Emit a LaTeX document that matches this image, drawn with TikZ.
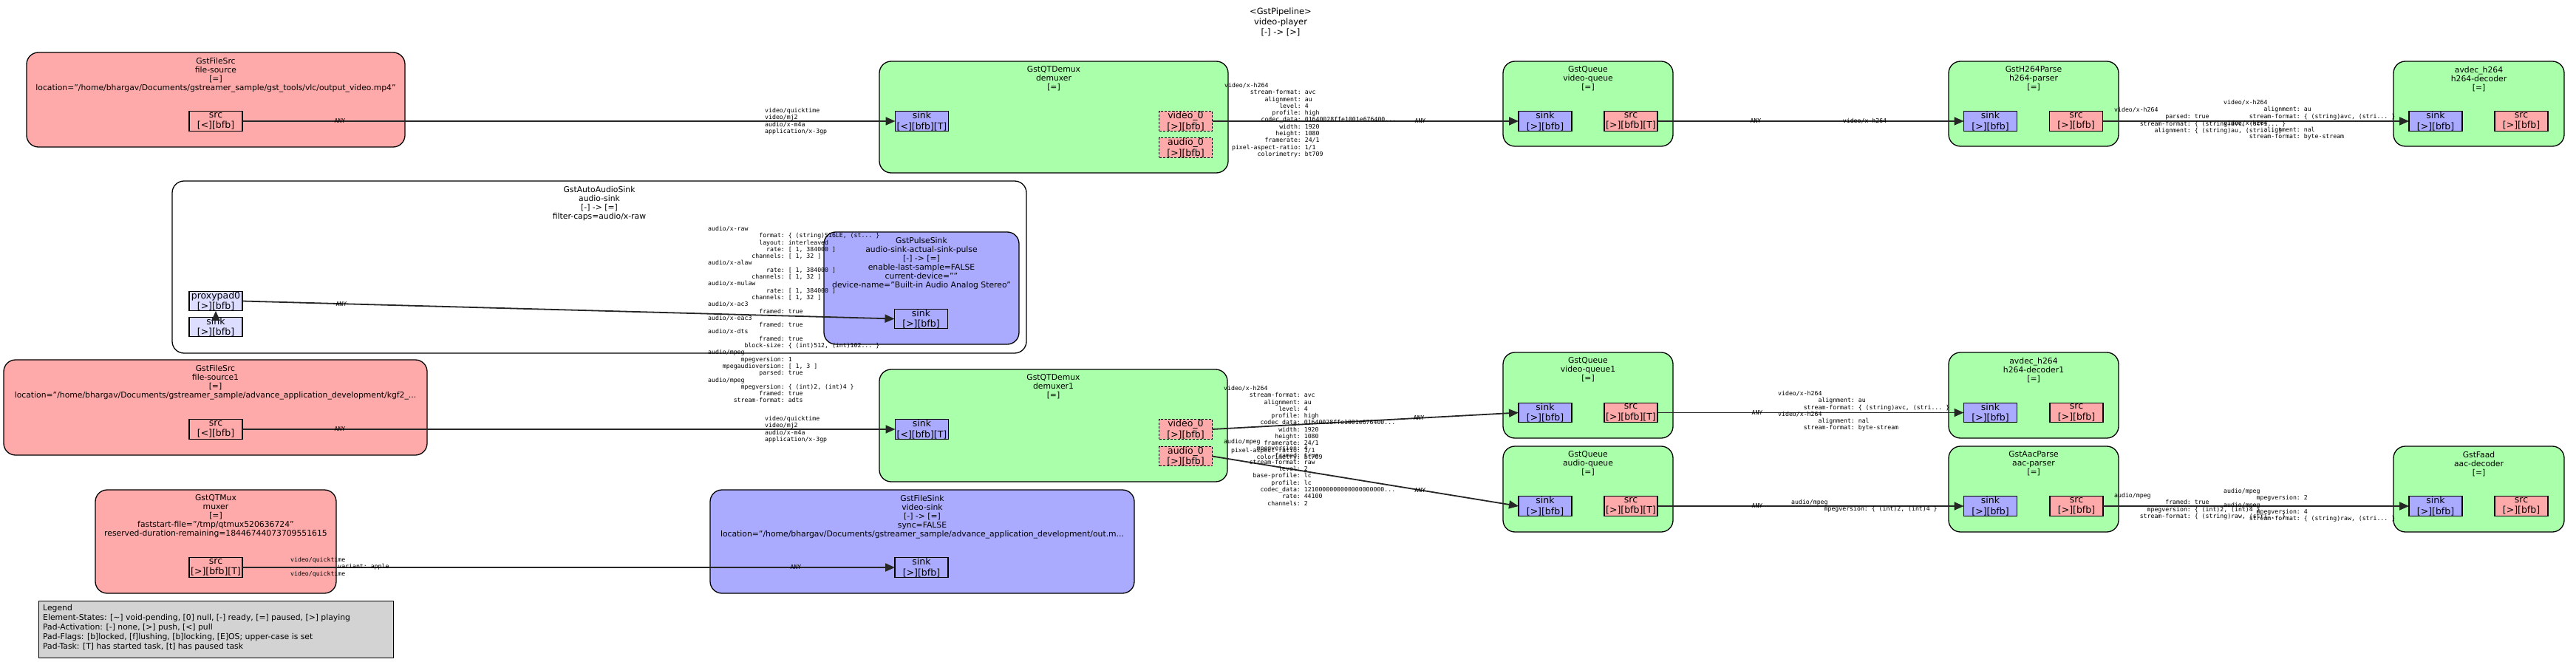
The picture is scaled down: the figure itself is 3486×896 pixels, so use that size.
\documentclass[tikz,border=0pt]{standalone}
\usepackage{fontspec}
\setmainfont{DejaVu Sans}
\setmonofont{DejaVu Sans Mono}
\usepackage{xcolor}
\usepackage{tikz}
\usetikzlibrary{calc,arrows.meta}

\definecolor{elemgreen}{HTML}{AAFFAA}
\definecolor{srcpink}{HTML}{FFAAAA}
\definecolor{sinkblue}{HTML}{AAAAFF}
\definecolor{ghostblue}{HTML}{DDDDFF}
\definecolor{legendgray}{HTML}{D3D3D3}

\newcommand{\kv}[2]{\makebox[12.04em][r]{#1}: #2}

\begin{document}
\begin{tikzpicture}[x=1pt, y=-1pt,
        elem/.style={draw, line width=1.3pt, rounded corners=16pt, anchor=north west, inner sep=0pt, outer sep=0pt},
        elabel/.style={anchor=north, inner sep=0pt, align=center, font=\fontsize{10.8}{12}\selectfont},
        pad/.style={draw, line width=1.2pt, minimum width=72pt, minimum height=26.5pt, inner sep=0pt, outer sep=0pt, align=center, font=\fontsize{12.5}{14.5}\selectfont},
        srcpad/.style={pad, fill=srcpink},
        sinkpad/.style={pad, fill=sinkblue},
        ghostpad/.style={pad, fill=ghostblue},
        somepad/.style={srcpad, dash pattern=on 3pt off 2pt},
        caps/.style={anchor=north west, inner sep=0pt, align=left, font=\ttfamily\fontsize{8.2}{9.3}\selectfont},
        anylbl/.style={inner sep=0pt, font=\ttfamily\fontsize{8.2}{9.3}\selectfont},
        link/.style={line width=1.8pt, draw=black!85, -{Triangle[length=13pt,width=11pt]}}]

        \useasboundingbox (0,0) rectangle (3486,896);

        \node[elabel, font=\fontsize{11.5}{13.8}\selectfont] (pipeline) at (1733,11) {<GstPipeline>\\video-player\\{}[-] -> [>]};

        \node[elem, fill=srcpink, minimum width=512pt, minimum height=128pt] (fsrc) at (36,71) {};
        \node[elabel] (fsrc-l) at ($(fsrc.north)+(0,6.7)$) {GstFileSrc\\file-source\\{}[=]\\location="/home/bhargav/Documents/gstreamer\_sample/gst\_tools/vlc/output\_video.mp4"};
        \node[srcpad] (fsrc-src) at (292,164) {src\\{}[<][bfb]};

        \node[elem, fill=elemgreen, minimum width=472pt, minimum height=151pt] (dmx) at (1190,83) {};
        \node[elabel] (dmx-l) at ($(dmx.north)+(0,6.7)$) {GstQTDemux\\demuxer\\{}[=]};
        \node[sinkpad] (dmx-sink) at (1247.5,164) {sink\\{}[<][bfb][T]};
        \node[somepad] (dmx-v) at (1604.5,164) {video\_0\\{}[>][bfb]};
        \node[somepad] (dmx-a) at (1604.5,200) {audio\_0\\{}[>][bfb]};

        \node[elem, fill=elemgreen, minimum width=230pt, minimum height=115pt] (vq) at (2034,83) {};
        \node[elabel] (vq-l) at ($(vq.north)+(0,6.7)$) {GstQueue\\video-queue\\{}[=]};
        \node[sinkpad] (vq-sink) at (2091,164) {sink\\{}[>][bfb]};
        \node[srcpad] (vq-src) at (2207,164) {src\\{}[>][bfb][T]};

        \node[elem, fill=elemgreen, minimum width=230pt, minimum height=115pt] (hp) at (2637,83) {};
        \node[elabel] (hp-l) at ($(hp.north)+(0,6.7)$) {GstH264Parse\\h264-parser\\{}[=]};
        \node[sinkpad] (hp-sink) at (2693.5,164) {sink\\{}[>][bfb]};
        \node[srcpad] (hp-src) at (2809.5,164) {src\\{}[>][bfb]};

        \node[elem, fill=elemgreen, minimum width=231pt, minimum height=115pt] (hd) at (3239,83) {};
        \node[elabel] (hd-l) at ($(hd.north)+(0,6.7)$) {avdec\_h264\\h264-decoder\\{}[=]};
        \node[sinkpad] (hd-sink) at (3296,164) {sink\\{}[>][bfb]};
        \node[srcpad] (hd-src) at (3412,164) {src\\{}[>][bfb]};

        \node[elem, fill=white, minimum width=1156pt, minimum height=233pt] (asink) at (233,245) {};
        \node[elabel] (asink-l) at ($(asink.north)+(0,6.7)$) {GstAutoAudioSink\\audio-sink\\{}[-] -> [=]\\filter-caps=audio/x-raw};
        \node[ghostpad] (proxypad) at (292,407.5) {proxypad0\\{}[>][bfb]};
        \node[ghostpad] (binsink) at (292,442.5) {sink\\{}[>][bfb]};

        \node[elem, fill=sinkblue, minimum width=264pt, minimum height=152pt] (pulse) at (1115,314) {};
        \node[elabel] (pulse-l) at ($(pulse.north)+(0,6.7)$) {GstPulseSink\\audio-sink-actual-sink-pulse\\{}[-] -> [=]\\enable-last-sample=FALSE\\current-device=""\\device-name="Built-in Audio Analog Stereo"};
        \node[sinkpad] (pulse-sink) at (1246.5,431.5) {sink\\{}[>][bfb]};

        \node[elem, fill=srcpink, minimum width=573pt, minimum height=129pt] (fsrc1) at (5,487) {};
        \node[elabel] (fsrc1-l) at ($(fsrc1.north)+(0,6.7)$) {GstFileSrc\\file-source1\\{}[=]\\location="/home/bhargav/Documents/gstreamer\_sample/advance\_application\_development/kgf2\_...};
        \node[srcpad] (fsrc1-src) at (292,581) {src\\{}[<][bfb]};

        \node[elem, fill=elemgreen, minimum width=471pt, minimum height=152pt] (dmx1) at (1190,500) {};
        \node[elabel] (dmx1-l) at ($(dmx1.north)+(0,6.7)$) {GstQTDemux\\demuxer1\\{}[=]};
        \node[sinkpad] (dmx1-sink) at (1247.5,581) {sink\\{}[<][bfb][T]};
        \node[somepad] (dmx1-v) at (1604.5,581) {video\_0\\{}[>][bfb]};
        \node[somepad] (dmx1-a) at (1604.5,617.5) {audio\_0\\{}[>][bfb]};

        \node[elem, fill=elemgreen, minimum width=230pt, minimum height=116pt] (vq1) at (2034,477) {};
        \node[elabel] (vq1-l) at ($(vq1.north)+(0,6.7)$) {GstQueue\\video-queue1\\{}[=]};
        \node[sinkpad] (vq1-sink) at (2091,558.5) {sink\\{}[>][bfb]};
        \node[srcpad] (vq1-src) at (2207,558.5) {src\\{}[>][bfb][T]};

        \node[elem, fill=elemgreen, minimum width=230pt, minimum height=116pt] (hd1) at (2637,477) {};
        \node[elabel] (hd1-l) at ($(hd1.north)+(0,6.7)$) {avdec\_h264\\h264-decoder1\\{}[=]};
        \node[sinkpad] (hd1-sink) at (2693.5,558.5) {sink\\{}[>][bfb]};
        \node[srcpad] (hd1-src) at (2810,558.5) {src\\{}[>][bfb]};

        \node[elem, fill=elemgreen, minimum width=230pt, minimum height=116pt] (aq) at (2034,604) {};
        \node[elabel] (aq-l) at ($(aq.north)+(0,6.7)$) {GstQueue\\audio-queue\\{}[=]};
        \node[sinkpad] (aq-sink) at (2091,685) {sink\\{}[>][bfb]};
        \node[srcpad] (aq-src) at (2207,685) {src\\{}[>][bfb][T]};

        \node[elem, fill=elemgreen, minimum width=230pt, minimum height=116pt] (ap) at (2637,604) {};
        \node[elabel] (ap-l) at ($(ap.north)+(0,6.7)$) {GstAacParse\\aac-parser\\{}[=]};
        \node[sinkpad] (ap-sink) at (2693.5,685) {sink\\{}[>][bfb]};
        \node[srcpad] (ap-src) at (2810,685) {src\\{}[>][bfb]};

        \node[elem, fill=elemgreen, minimum width=231pt, minimum height=116pt] (ad) at (3239,604) {};
        \node[elabel] (ad-l) at ($(ad.north)+(0,6.7)$) {GstFaad\\aac-decoder\\{}[=]};
        \node[sinkpad] (ad-sink) at (3296,685) {sink\\{}[>][bfb]};
        \node[srcpad] (ad-src) at (3412,685) {src\\{}[>][bfb]};

        \node[elem, fill=srcpink, minimum width=326pt, minimum height=140pt] (mux) at (129,663) {};
        \node[elabel] (mux-l) at ($(mux.north)+(0,6.7)$) {GstQTMux\\muxer\\{}[=]\\faststart-file="/tmp/qtmux520636724"\\reserved-duration-remaining=18446744073709551615};
        \node[srcpad] (mux-src) at (292,768) {src\\{}[>][bfb][T]};

        \node[elem, fill=sinkblue, minimum width=574pt, minimum height=140pt] (fsink) at (961,663) {};
        \node[elabel] (fsink-l) at ($(fsink.north)+(0,6.7)$) {GstFileSink\\video-sink\\{}[-] -> [=]\\sync=FALSE\\location="/home/bhargav/Documents/gstreamer\_sample/advance\_application\_development/out.m...};
        \node[sinkpad] (fsink-sink) at (1247,768) {sink\\{}[>][bfb]};

        \node[draw, fill=legendgray, line width=1pt, anchor=north west, inner sep=0pt, minimum width=480pt, minimum height=77pt] (legend) at (52,813) {};
        \node[anchor=north west, inner sep=0pt, align=left, font=\fontsize{10.8}{13}\selectfont] (legend-t) at ($(legend.north west)+(6,5)$) {Legend\\Element-States: [\textasciitilde] void-pending, [0] null, [-] ready, [=] paused, [>] playing\\Pad-Activation: [-] none, [>] push, [<] pull\\Pad-Flags: [b]locked, [f]lushing, [b]locking, [E]OS; upper-case is set\\Pad-Task: [T] has started task, [t] has paused task};

        \draw[link] (fsrc-src.east) -- (dmx-sink.west);
        \draw[link] (dmx-v.east) -- (vq-sink.west);
        \draw[link] (vq-src.east) -- (hp-sink.west);
        \draw[link] (hp-src.east) -- (hd-sink.west);
        \draw[link] (binsink.north) -- (proxypad.south);
        \draw[link] (proxypad.east) -- (pulse-sink.west);
        \draw[link] (fsrc1-src.east) -- (dmx1-sink.west);
        \draw[link] (dmx1-v.east) -- (vq1-sink.west);
        \draw[link] (dmx1-a.east) -- (aq-sink.west);
        \draw[link] (vq1-src.east) -- (hd1-sink.west);
        \draw[link] (aq-src.east) -- (ap-sink.west);
        \draw[link] (ap-src.east) -- (ad-sink.west);
        \draw[link] (mux-src.east) -- (fsink-sink.west);

        \node[anylbl] (any-fsrc) at ($(fsrc-src.east)!132pt!(dmx-sink.west)$) {ANY};
        \node[anylbl] (any-vq) at ($(vq-sink.west)!133pt!(dmx-v.east)$) {ANY};
        \node[anylbl] (any-vqsrc) at ($(vq-src.east)!133pt!(hp-sink.west)$) {ANY};
        \node[anylbl] (h264-hp) at ($(hp-sink.west)!134pt!(vq-src.east)$) {video/x-h264};
        \node[anylbl] (any-proxy) at ($(proxypad.east)!134pt!(pulse-sink.west)$) {ANY};
        \node[anylbl] (any-fsrc1) at ($(fsrc1-src.east)!132pt!(dmx1-sink.west)$) {ANY};
        \node[anylbl] (any-vq1) at ($(vq1-sink.west)!135pt!(dmx1-v.east)$) {ANY};
        \node[anylbl] (any-aq) at ($(aq-sink.west)!135pt!(dmx1-a.east)$) {ANY};
        \node[anylbl] (any-vq1src) at ($(vq1-src.east)!135pt!(hd1-sink.west)$) {ANY};
        \node[anylbl] (any-aqsrc) at ($(aq-src.east)!135pt!(ap-sink.west)$) {ANY};
        \node[anylbl] (any-fsink) at ($(fsink-sink.west)!134pt!(mux-src.east)$) {ANY};

        \node[caps] (dmx-sink-caps) at (1035,146) {video/quicktime\\video/mj2\\audio/x-m4a\\application/x-3gp};
        \node[caps] (dmx1-sink-caps) at (1035,563) {video/quicktime\\video/mj2\\audio/x-m4a\\application/x-3gp};
        \node[caps] (dmx-v-caps) at (1657,112) {video/x-h264\\\kv{stream-format}{avc}\\\kv{alignment}{au}\\\kv{level}{4}\\\kv{profile}{high}\\\kv{codec\_data}{01640028ffe1001e676400...}\\\kv{width}{1920}\\\kv{height}{1080}\\\kv{framerate}{24/1}\\\kv{pixel-aspect-ratio}{1/1}\\\kv{colorimetry}{bt709}};
        \node[caps] (dmx1-v-caps) at (1656,522) {video/x-h264\\\kv{stream-format}{avc}\\\kv{alignment}{au}\\\kv{level}{4}\\\kv{profile}{high}\\\kv{codec\_data}{01640028ffe1001e676400...}\\\kv{width}{1920}\\\kv{height}{1080}\\\kv{framerate}{24/1}\\\kv{pixel-aspect-ratio}{1/1}\\\kv{colorimetry}{bt709}};
        \node[caps] (dmx1-a-caps) at (1656,594) {audio/mpeg\\\kv{mpegversion}{4}\\\kv{framed}{true}\\\kv{stream-format}{raw}\\\kv{level}{2}\\\kv{base-profile}{lc}\\\kv{profile}{lc}\\\kv{codec\_data}{1210000000000000000000...}\\\kv{rate}{44100}\\\kv{channels}{2}};
        \node[caps] (hp-src-caps) at (2861,145) {video/x-h264\\\kv{parsed}{true}\\\kv{stream-format}{\{ (string)avc, (stri... \}}\\\kv{alignment}{\{ (string)au, (stri... \}}};
        \node[caps] (hd-sink-caps) at (3009,135) {video/x-h264\\\kv{alignment}{au}\\\kv{stream-format}{\{ (string)avc, (stri... \}}\\video/x-h264\\\kv{alignment}{nal}\\\kv{stream-format}{byte-stream}};
        \node[caps] (hd1-sink-caps) at (2406,529) {video/x-h264\\\kv{alignment}{au}\\\kv{stream-format}{\{ (string)avc, (stri... \}}\\video/x-h264\\\kv{alignment}{nal}\\\kv{stream-format}{byte-stream}};
        \node[caps] (ap-sink-caps) at (2424,676) {audio/mpeg\\\kv{mpegversion}{\{ (int)2, (int)4 \}}};
        \node[caps] (ap-src-caps) at (2861,667) {audio/mpeg\\\kv{framed}{true}\\\kv{mpegversion}{\{ (int)2, (int)4 \}}\\\kv{stream-format}{\{ (string)raw, (stri... \}}};
        \node[caps] (ad-sink-caps) at (3009,661) {audio/mpeg\\\kv{mpegversion}{2}\\audio/mpeg\\\kv{mpegversion}{4}\\\kv{stream-format}{\{ (string)raw, (stri... \}}};
        \node[caps] (mux-src-caps) at (393,754) {video/quicktime\\\kv{variant}{apple}\\video/quicktime};
        \node[caps] (pulse-sink-caps) at (958,306) {audio/x-raw\\\kv{format}{\{ (string)S16LE, (st... \}}\\\kv{layout}{interleaved}\\\kv{rate}{[ 1, 384000 ]}\\\kv{channels}{[ 1, 32 ]}\\audio/x-alaw\\\kv{rate}{[ 1, 384000 ]}\\\kv{channels}{[ 1, 32 ]}\\audio/x-mulaw\\\kv{rate}{[ 1, 384000 ]}\\\kv{channels}{[ 1, 32 ]}\\audio/x-ac3\\\kv{framed}{true}\\audio/x-eac3\\\kv{framed}{true}\\audio/x-dts\\\kv{framed}{true}\\\kv{block-size}{\{ (int)512, (int)102... \}}\\audio/mpeg\\\kv{mpegversion}{1}\\\kv{mpegaudioversion}{[ 1, 3 ]}\\\kv{parsed}{true}\\audio/mpeg\\\kv{mpegversion}{\{ (int)2, (int)4 \}}\\\kv{framed}{true}\\\kv{stream-format}{adts}};
    \end{tikzpicture}
\end{document}
